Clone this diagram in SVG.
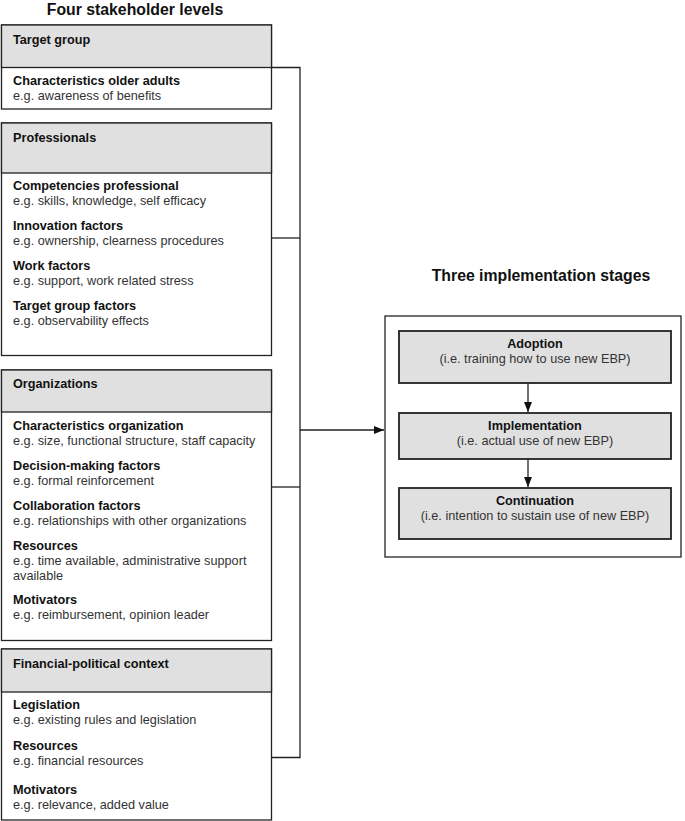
<svg xmlns="http://www.w3.org/2000/svg" width="685" height="821" viewBox="0 0 685 821">
<defs>
<marker id="arr" markerWidth="10" markerHeight="8" refX="10" refY="4" orient="auto" markerUnits="userSpaceOnUse">
<path d="M0,0 L10,4 L0,8 Z" fill="#111"/>
</marker>
<style>
.box{fill:#fff;stroke:#222;stroke-width:1.3}
.hdr{fill:#e0e0e0;stroke:#222;stroke-width:1.3}
.stage{fill:#e0e0e0;stroke:#222;stroke-width:1.8}
.title{font-family:"Liberation Sans",Arial,sans-serif;font-size:15.8px;font-weight:bold;fill:#111}
.b{font-family:"Liberation Sans",Arial,sans-serif;font-size:12.7px;font-weight:bold;fill:#111}
.n{font-family:"Liberation Sans",Arial,sans-serif;font-size:12.7px;fill:#333}
.line{fill:none;stroke:#222;stroke-width:1.3}
</style>
</defs>
<rect width="685" height="821" fill="#fff"/>
<text class="title" x="135" y="15" text-anchor="middle">Four stakeholder levels</text>
<text class="title" x="541" y="281" text-anchor="middle">Three implementation stages</text>

<g id="target-group">
<rect class="box" x="1.5" y="25" width="270" height="84"/>
<rect class="hdr" x="1.5" y="25" width="270" height="42.5"/>
<text class="b" x="13" y="44">Target group</text>
<text class="b" x="13" y="85">Characteristics older adults</text>
<text class="n" x="13" y="100">e.g. awareness of benefits</text>
</g>

<g id="professionals">
<rect class="box" x="1.5" y="123" width="270" height="232.5"/>
<rect class="hdr" x="1.5" y="123" width="270" height="50"/>
<text class="b" x="13" y="142">Professionals</text>
<text class="b" x="13" y="190">Competencies professional</text>
<text class="n" x="13" y="205">e.g. skills, knowledge, self efficacy</text>
<text class="b" x="13" y="230">Innovation factors</text>
<text class="n" x="13" y="245">e.g. ownership, clearness procedures</text>
<text class="b" x="13" y="270">Work factors</text>
<text class="n" x="13" y="285">e.g. support, work related stress</text>
<text class="b" x="13" y="310">Target group factors</text>
<text class="n" x="13" y="325">e.g. observability effects</text>
</g>

<g id="organizations">
<rect class="box" x="1.5" y="370" width="270" height="270.5"/>
<rect class="hdr" x="1.5" y="370" width="270" height="42"/>
<text class="b" x="13" y="388">Organizations</text>
<text class="b" x="13" y="430">Characteristics organization</text>
<text class="n" x="13" y="445">e.g. size, functional structure, staff capacity</text>
<text class="b" x="13" y="470">Decision-making factors</text>
<text class="n" x="13" y="485">e.g. formal reinforcement</text>
<text class="b" x="13" y="510">Collaboration factors</text>
<text class="n" x="13" y="525">e.g. relationships with other organizations</text>
<text class="b" x="13" y="550">Resources</text>
<text class="n" x="13" y="565">e.g. time available, administrative support</text>
<text class="n" x="13" y="580">available</text>
<text class="b" x="13" y="604">Motivators</text>
<text class="n" x="13" y="619">e.g. reimbursement, opinion leader</text>
</g>

<g id="financial-political">
<rect class="box" x="1.5" y="649" width="270" height="171"/>
<rect class="hdr" x="1.5" y="649" width="270" height="43"/>
<text class="b" x="13" y="668">Financial-political context</text>
<text class="b" x="13" y="709">Legislation</text>
<text class="n" x="13" y="724">e.g. existing rules and legislation</text>
<text class="b" x="13" y="750">Resources</text>
<text class="n" x="13" y="765">e.g. financial resources</text>
<text class="b" x="13" y="794">Motivators</text>
<text class="n" x="13" y="809">e.g. relevance, added value</text>
</g>

<g id="stages">
<rect class="box" x="385" y="316" width="296" height="241"/>
</g>
<g id="adoption">
<rect class="stage" x="399" y="331" width="272" height="52"/>
<text class="b" x="535" y="348" text-anchor="middle">Adoption</text>
<text class="n" x="535" y="363" text-anchor="middle">(i.e. training how to use new EBP)</text>
</g>
<g id="implementation">
<rect class="stage" x="399" y="413" width="272" height="46"/>
<text class="b" x="535" y="430" text-anchor="middle">Implementation</text>
<text class="n" x="535" y="445" text-anchor="middle">(i.e. actual use of new EBP)</text>
</g>
<g id="continuation">
<rect class="stage" x="399" y="488" width="272" height="51"/>
<text class="b" x="535" y="505" text-anchor="middle">Continuation</text>
<text class="n" x="535" y="520" text-anchor="middle">(i.e. intention to sustain use of new EBP)</text>
</g>

<g id="connectors">
<path class="line" d="M271.5,67.5 H300 V757.5 H271.5"/>
<path class="line" d="M271.5,238 H300"/>
<path class="line" d="M271.5,487 H300"/>
<path class="line" d="M300,430 H384" marker-end="url(#arr)"/>
<path class="line" d="M528,383 V412" marker-end="url(#arr)"/>
<path class="line" d="M528,459 V487" marker-end="url(#arr)"/>
</g>
</svg>
